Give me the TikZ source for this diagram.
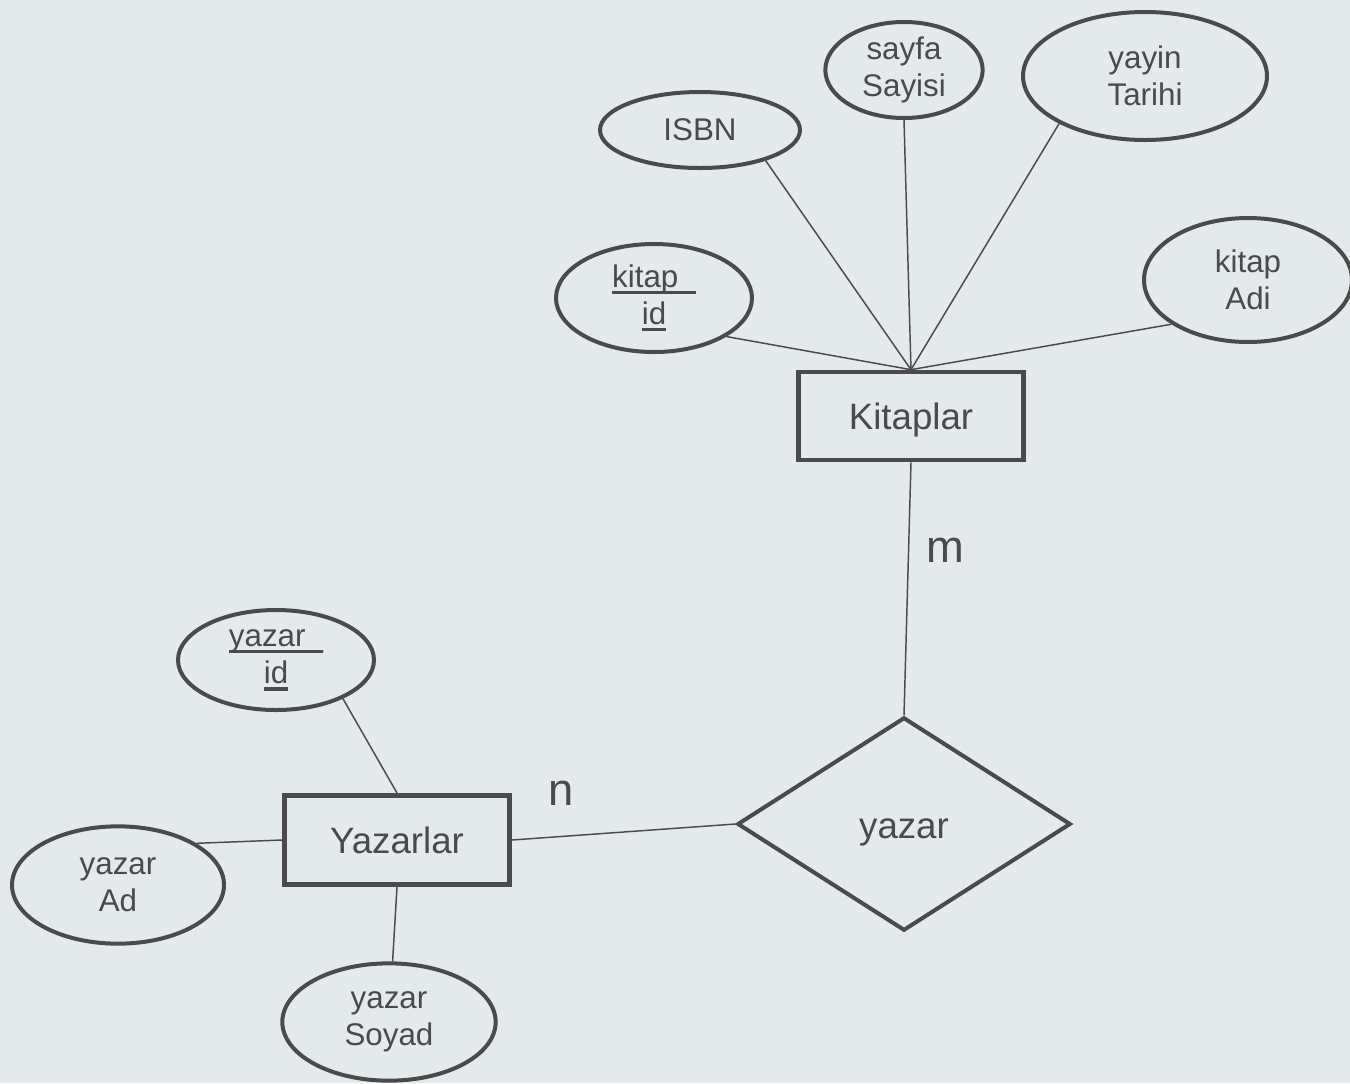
\documentclass[tikz,border=0pt]{standalone}
\usepackage{fontspec}
\setmainfont{Liberation Sans}
\usetikzlibrary{shapes.geometric}
\definecolor{bgcol}{HTML}{E4E9EB}
\definecolor{inkcol}{HTML}{4A4A4A}
\newcommand{\keyline}[1]{\setbox0\hbox{#1}\rlap{\rule[-0.22em]{\wd0}{0.1em}}\box0}
\begin{document}
\begin{tikzpicture}[x=0.75pt,y=-0.75pt,
		attr/.style={draw=inkcol,line width=3pt,ellipse,inner sep=0pt,text=inkcol,align=center,
			font=\fontsize{23.5}{28}\selectfont},
		entity/.style={draw=inkcol,line width=3.5pt,rectangle,inner sep=0pt,text=inkcol,
			text depth=0pt,font=\fontsize{27.5}{32}\selectfont},
		relation/.style={draw=inkcol,line width=3pt,diamond,inner sep=0pt,text=inkcol,
			text height=21pt,text depth=0pt,font=\fontsize{27.5}{32}\selectfont},
		card/.style={text=inkcol,font=\fontsize{34}{40}\selectfont},
		link/.style={draw=inkcol,line width=1.1pt}]
	\fill[bgcol] (0,0) rectangle (1350,1083);
	\useasboundingbox (0,0) rectangle (1350,1083);
	% entities
	\node[entity,minimum width=169pt,minimum height=66pt] (kitaplar) at (911,416) {Kitaplar};
	\node[entity,minimum width=169pt,minimum height=67pt] (yazarlar) at (397,840) {Yazarlar};
	\node[relation,minimum width=250pt,minimum height=160pt] (yazar) at (904,824) {yazar};
	% attributes of Kitaplar
	\node[attr,minimum width=147pt,minimum height=81pt] (kitapid) at (654,298)
		{\keyline{kitap\_}\\\keyline{id}};
	\node[attr,minimum width=150pt,minimum height=57pt] (isbn) at (700,130) {ISBN};
	\node[attr,minimum width=118pt,minimum height=72pt] (sayfa) at (904,70) {sayfa\\Sayisi};
	\node[attr,minimum width=183pt,minimum height=96pt] (yayin) at (1145,76) {yayin\\Tarihi};
	\node[attr,minimum width=156pt,minimum height=93pt] (kitapadi) at (1248,280) {kitap\\Adi};
	% attributes of Yazarlar
	\node[attr,minimum width=147pt,minimum height=75pt] (yazarid) at (276,660)
		{\keyline{yazar\_}\\\keyline{id}};
	\node[attr,minimum width=159pt,minimum height=88pt] (yazarad) at (118,885) {yazar\\Ad};
	\node[attr,minimum width=160pt,minimum height=88pt] (yazarsoyad) at (389,1022) {yazar\\Soyad};
	% connectors
	\foreach \a/\ang in {kitapid/-28,isbn/-25,sayfa/-90,yayin/-151,kitapadi/-150}
		\draw[link] (\a.\ang) -- (kitaplar.north);
	\draw[link] (yazarid.-30) -- (yazarlar.north);
	\draw[link] (yazarad.28) -- (yazarlar.west);
	\draw[link] (yazarsoyad) -- (yazarlar.south);
	\draw[link] (kitaplar.south) -- (yazar.north);
	\draw[link] (yazarlar.east) -- (yazar.west);
	% cardinalities
	\node[card] (m) at (945,550) {m};
	\node[card] (n) at (561,793) {n};
\end{tikzpicture}
\end{document}
